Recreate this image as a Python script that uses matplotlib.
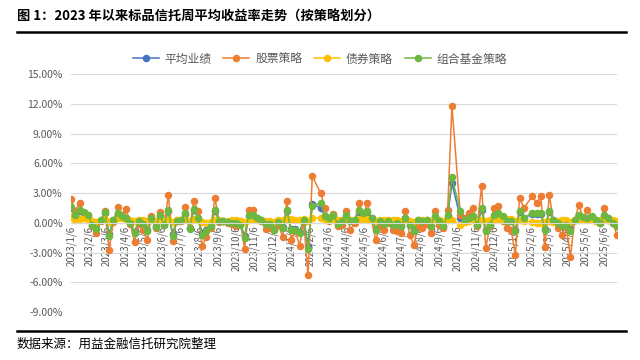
import numpy as np
import pandas as pd
import matplotlib
matplotlib.use("Agg")
import matplotlib.pyplot as plt
from matplotlib.lines import Line2D

plt.rcParams['font.family'] = ['Noto Sans CJK SC', 'DejaVu Sans']

# weekly dates (Fridays), holiday weeks without data are dropped
skip_weeks = ["2024-02-16", "2024-10-04", "2025-01-31"]
dates = pd.date_range("2023-01-06", "2025-06-27", freq="W-FRI")
dates = dates[~dates.isin(pd.to_datetime(skip_weeks))]

series_names = ["平均业绩", "股票策略", "债券策略", "组合基金策略"]
series_colors = ["#4472C4", "#ED7D31", "#FFC000", "#6DB83F"]

# weekly yields in %
stock = [
    # 2023
    2.4, 1.2, 2.0, 1.0, 0.8, -0.3, -1.0, 0.2, 1.2, -2.7, 0.1, 1.6, 0.8, 1.4, -0.1, -1.9,
    -0.1, -0.7, -1.7, 0.7, -0.5, 1.1, -0.2, 2.8, -1.8, 0.3, 0.2, 1.6, -0.5, 2.2, 1.2, -2.3,
    -1.4, -0.5, 2.5, 0.1, 0.2, 0.0, -0.1, -0.3, 0.2, -2.6, 1.3, 1.3, 0.4, 0.2, -0.6, -0.5,
    -0.7, -0.2, -1.4, 2.2,
    # 2024
    -1.7, -0.8, -2.3, 0.1, -5.3, 4.7, 3.0, 1.5, 0.2, 0.9, -0.3, -0.2, 1.2, -0.7, 0.0, 2.0,
    0.7, 2.0, 0.3, -1.7, -0.3, -0.7, 0.0, -0.7, -0.8, -1.0, 1.2, -1.2, -2.2, -0.3, -0.5, -0.1,
    -1.0, 1.2, -0.2, -0.5, 1.3, 11.8, 0.8, 0.5, 1.0, 1.5, -0.3, 3.7, -2.5, -0.3, 1.5, 1.7,
    0.2, -0.5,
    # 2025
    -0.7, -3.2, 2.5, 1.5, 2.7, 2.0, 2.7, -2.4, 2.8, 0.2, -0.5, -1.2, -0.3, -3.4, 0.3, 1.8,
    0.5, 1.3, 0.5, 0.2, 0.0, 1.5, 0.3, 0.0, -1.2,
]
fof = [
    1.6, 0.8, 1.3, 1.1, 0.8, -0.2, -0.6, 0.3, 1.1, -1.3, 0.3, 1.0, 0.7, 0.5, 0.0, -1.0,
    0.2, -0.1, -0.8, 0.5, -0.4, 0.8, -0.2, 1.3, -1.3, 0.2, 0.3, 1.0, -0.6, 1.4, 0.5, -1.2,
    -0.8, -0.3, 1.3, 0.2, 0.2, 0.1, 0.0, 0.0, -0.2, -1.5, 0.8, 0.8, 0.5, 0.3, -0.1, -0.1,
    -0.7, 0.1, -0.5, 1.3,
    -0.7, -0.7, -1.0, 0.3, -2.6, 1.7, 2.0, 0.7, 0.5, 0.8, -0.1, 0.2, 0.8, 0.2, 0.3, 1.3,
    1.0, 1.2, 0.5, -0.7, 0.2, -0.1, 0.2, -0.2, 0.0, -0.3, 0.5, -0.2, -0.8, 0.3, 0.2, 0.3,
    -0.3, 0.7, 0.2, -0.3, 0.8, 4.6, 1.2, 0.3, 0.5, 0.7, -0.2, 1.5, -0.8, -0.2, 0.8, 1.0,
    0.7, 0.2,
    0.2, -0.8, 1.2, 0.5, 1.0, 1.0, 1.0, -0.7, 1.2, 0.3, 0.0, -0.3, -0.2, -0.8, 0.3, 0.8,
    0.6, 0.5, 0.7, 0.3, 0.0, 0.8, 0.5, 0.0, -0.3,
]
bond = [
    0.6, 0.3, 0.4, 0.5, 0.4, 0.2, 0.1, 0.3, 0.4, 0.1, 0.3, 0.5, 0.5, 0.4, 0.3, 0.2,
    0.3, 0.3, 0.2, 0.3, 0.2, 0.3, 0.2, 0.4, 0.1, 0.3, 0.3, 0.4, 0.2, 0.4, 0.3, 0.1,
    0.0, 0.1, 0.3, 0.3, 0.2, 0.2, 0.3, 0.3, 0.2, 0.1, 0.3, 0.4, 0.3, 0.3, 0.2, 0.2,
    0.1, 0.3, 0.3, 0.4,
    0.4, 0.3, 0.3, 0.4, 0.2, 0.5, 0.5, 0.4, 0.3, 0.4, 0.3, 0.3, 0.4, 0.3, 0.3, 0.4,
    0.4, 0.4, 0.3, 0.2, 0.3, 0.3, 0.3, 0.3, 0.3, 0.2, 0.3, 0.2, 0.1, 0.3, 0.3, 0.3,
    0.2, 0.3, 0.3, 0.2, 0.3, 0.3, -0.2, 0.1, 0.2, 0.3, 0.2, 0.3, 0.2, 0.3, 0.4, 0.4,
    0.4, 0.4,
    0.4, 0.2, 0.3, 0.2, 0.1, 0.0, 0.0, 0.1, 0.2, 0.1, 0.2, 0.3, 0.3, 0.1, 0.3, 0.3,
    0.3, 0.3, 0.3, 0.2, 0.3, 0.3, 0.3, 0.3, 0.2,
]
avg = [
    1.5, 0.7, 1.2, 1.0, 0.7, -0.2, -0.5, 0.3, 1.0, -1.1, 0.3, 0.9, 0.7, 0.5, 0.0, -0.9,
    0.2, -0.1, -0.7, 0.5, -0.3, 0.7, -0.1, 1.2, -1.1, 0.2, 0.3, 0.9, -0.5, 1.3, 0.5, -1.0,
    -0.7, -0.2, 1.2, 0.2, 0.2, 0.1, 0.0, 0.0, -0.1, -1.3, 0.7, 0.7, 0.5, 0.3, -0.1, -0.1,
    -0.6, 0.1, -0.4, 1.2,
    -0.6, -0.6, -0.9, 0.3, -2.3, 1.9, 1.5, 0.7, 0.5, 0.7, -0.1, 0.2, 0.7, 0.2, 0.3, 1.1,
    0.9, 1.1, 0.5, -0.6, 0.2, -0.1, 0.2, -0.2, 0.0, -0.3, 0.5, -0.2, -0.7, 0.3, 0.2, 0.3,
    -0.3, 0.6, 0.2, -0.3, 0.7, 4.0, 0.5, 0.3, 0.5, 0.6, -0.2, 1.3, -0.7, -0.2, 0.7, 0.9,
    0.6, 0.2,
    0.2, -0.7, 1.1, 0.5, 0.9, 0.9, 0.9, -0.6, 1.1, 0.3, 0.0, -0.3, -0.2, -0.5, 0.3, 0.7,
    0.5, 0.5, 0.6, 0.3, 0.0, 0.7, 0.5, 0.0, -0.3,
]

yticks = [15, 12, 9, 6, 3, 0, -3, -6, -9]
xticks = pd.date_range("2023-01-06", periods=30, freq=pd.DateOffset(months=1))

fig = plt.figure(figsize=(6.4, 3.6), dpi=100)
ax = fig.add_axes([0.111, 0.133, 0.853, 0.661])

for vals, name, col in zip([avg, stock, bond, fof], series_names, series_colors):
    ax.plot(dates, vals, color=col, lw=1.1, marker="o", ms=4.4, mec=col, mfc=col, label=name)

ax.set_ylim(-9, 15)
ax.set_yticks(yticks)
ax.set_yticklabels([f"{v:.2f}%" for v in yticks])
ax.set_xlim(dates[0], dates[-1])
ax.set_xticks(xticks)
ax.set_xticklabels([f"{d.year}/{d.month}/{d.day}" for d in xticks])
ax.tick_params(axis="x", labelrotation=90, labelsize=7, labelcolor="#595959", pad=2)
ax.tick_params(axis="y", labelsize=7.5, labelcolor="#595959", pad=6)
ax.tick_params(length=0)
ax.grid(axis="y", color="#D9D9D9", lw=0.8)
ax.set_axisbelow(True)
for s in ["top", "right", "left"]:
    ax.spines[s].set_visible(False)
ax.spines["bottom"].set_position(("data", 0))
ax.spines["bottom"].set_color("#D9D9D9")

fig.legend(loc="center", bbox_to_anchor=(0.5, 1 - 59 / 360), ncol=4, frameon=False,
           fontsize=8.5, labelcolor="#595959", handlelength=2.2, columnspacing=1.0,
           handletextpad=0.5)

fig.text(17 / 640, 1 - 17 / 360, "图 1：2023 年以来标品信托周平均收益率走势（按策略划分）",
         fontsize=9.5, fontweight="bold", va="center", ha="left")
fig.add_artist(Line2D([17 / 640, 626 / 640], [1 - 31.5 / 360] * 2, color="black", lw=1.8))
fig.add_artist(Line2D([17 / 640, 626 / 640], [1 - 331 / 360] * 2, color="black", lw=1.8))
fig.text(17 / 640, 1 - 344 / 360, "数据来源：用益金融信托研究院整理", fontsize=9,
         va="center", ha="left")

fig.savefig("out.png", dpi=100)
